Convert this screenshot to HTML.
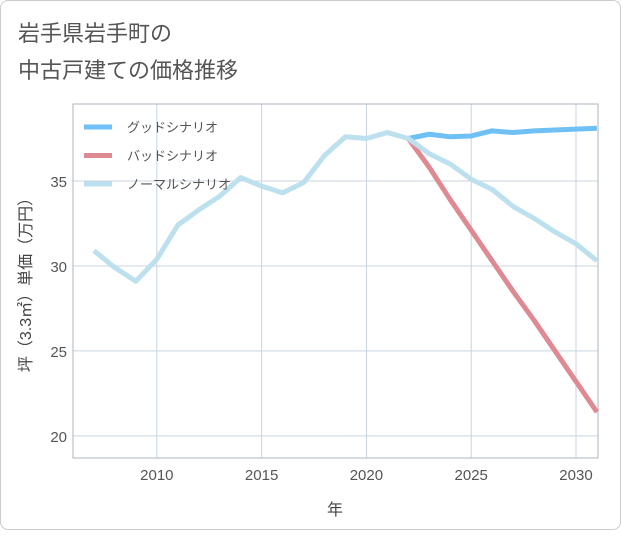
<!DOCTYPE html>
<html><head><meta charset="utf-8"><style>
body{margin:0;background:#fff;}
#card{position:absolute;left:0;top:0;width:619px;height:528px;border:1px solid #ccc;border-radius:8px;background:#fff;}
text{font-family:"Liberation Sans","Noto Sans CJK JP",sans-serif;}
</style></head><body>
<div id="card">
<svg id="chart" width="621" height="530">
<text x="17" y="40" font-size="22" fill="#555">岩手県岩手町の</text>
<text x="17" y="77" font-size="22" fill="#555">中古戸建ての価格推移</text>
<g id="grid"></g><g id="series"></g><g id="legend"></g>
<text x="334" y="514" font-size="16" fill="#444" text-anchor="middle">年</text>
<text transform="translate(30,280) rotate(-90)" font-size="16" fill="#444" text-anchor="middle">坪（3.3㎡）単価（万円）</text>
</svg></div>
<script>
const years=[2007,2008,2009,2010,2011,2012,2013,2014,2015,2016,2017,2018,2019,2020,2021,2022,2023,2024,2025,2026,2027,2028,2029,2030,2031];
const normal=[30.9,29.9,29.1,30.4,32.4,33.3,34.1,35.2,34.7,34.3,34.9,36.5,37.6,37.5,37.85,37.5,36.6,36.0,35.1,34.5,33.5,32.8,32.0,31.3,30.3];
const goodYears=[2022,2023,2024,2025,2026,2027,2028,2029,2030,2031];
const good=[37.5,37.75,37.6,37.65,37.95,37.85,37.95,38.0,38.05,38.1];
const bad=[37.5,35.8,33.9,32.1,30.3,28.5,26.8,25.0,23.2,21.4];
const xTicks=[2010,2015,2020,2025,2030];
const yTicks=[20,25,30,35];
const L=72,R=597,T=103,B=457,x0=2006,x1=2031.05,y0=18.7,y1=39.53;
const X=v=>L+(v-x0)/(x1-x0)*(R-L), Y=v=>B-(v-y0)/(y1-y0)*(B-T);
const NS='http://www.w3.org/2000/svg';
function mk(p,t,a){const e=document.createElementNS(NS,t);for(const k in a)e.setAttribute(k,a[k]);p.appendChild(e);return e;}
const g=document.getElementById('grid');
xTicks.forEach(v=>{const l=mk(g,'line',{x1:X(v),x2:X(v),y1:T,y2:B,stroke:'#c8d4e0'});


const t=mk(g,'text',{x:X(v),y:B+22,'font-size':15,fill:'#555','text-anchor':'middle'});t.textContent=v;

});
yTicks.forEach(v=>{const l=mk(g,'line',{x1:L,x2:R,y1:Y(v),y2:Y(v),stroke:'#c8d4e0'});


const t=mk(g,'text',{x:L-6,y:Y(v)+6,'font-size':15,fill:'#555','text-anchor':'end'});t.textContent=v;

});
const fr=mk(g,'rect',{x:L,y:T,width:R-L,height:B-T,fill:'none',stroke:'#aab4c0'});


const s=document.getElementById('series');
function line(xs,ys,c,n){const p=mk(s,'polyline',{points:xs.map((v,i)=>X(v)+','+Y(ys[i])).join(' '),fill:'none',stroke:c,'stroke-width':5,'stroke-linejoin':'round'});

}
line(goodYears,good,'#6ec0f5','good-scenario-line');
line(goodYears,bad,'#df8a92','bad-scenario-line');
line(years,normal,'#bde0ee','normal-scenario-line');
const lg=document.getElementById('legend');
[['グッドシナリオ','#6ec0f5'],['バッドシナリオ','#df8a92'],['ノーマルシナリオ','#bde0ee']].forEach((d,i)=>{
const y=126+i*28.5;const e=mk(lg,'g',{});


mk(e,'line',{x1:83,x2:111,y1:y,y2:y,stroke:d[1],'stroke-width':5});
const t=mk(e,'text',{x:126,y:y+5,'font-size':13,fill:'#555'});t.textContent=d[0];});
</script>
</body></html>
